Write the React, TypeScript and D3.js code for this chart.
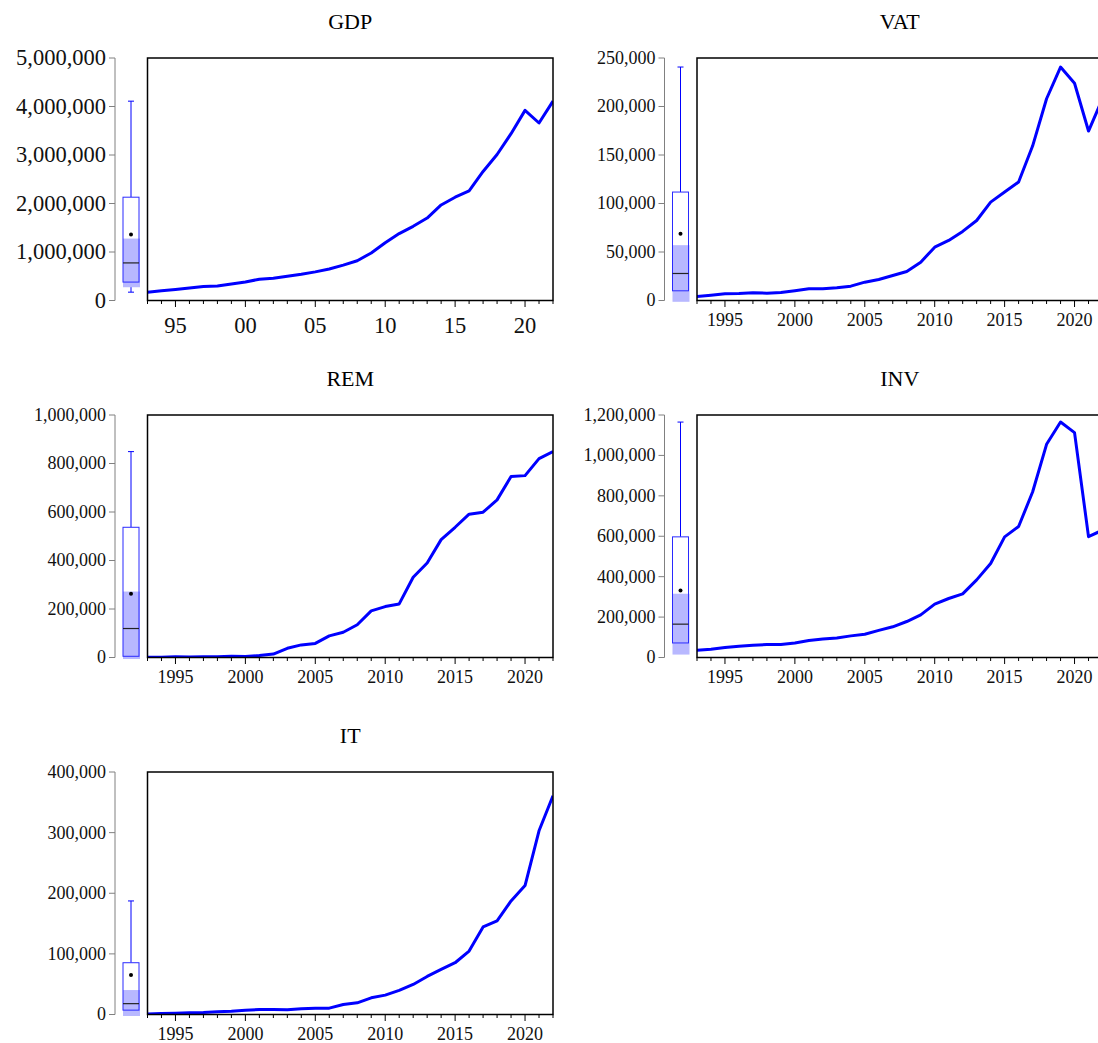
import React from "react";
import { scaleLinear, line, format, range, mean, median } from "d3";

const years = [
  1993, 1994, 1995, 1996, 1997, 1998, 1999, 2000, 2001, 2002, 2003, 2004, 2005,
  2006, 2007, 2008, 2009, 2010, 2011, 2012, 2013, 2014, 2015, 2016, 2017, 2018,
  2019, 2020, 2021, 2022,
];

const gdp = [
  172000, 200000, 227000, 260000, 290000, 300000, 340000, 380000, 440000,
  460000, 500000, 540000, 590000, 650000, 730000, 820000, 980000, 1190000,
  1380000, 1530000, 1700000, 1970000, 2130000, 2260000, 2660000, 3010000,
  3440000, 3920000, 3660000, 4110000,
];
const vat = [
  4100, 5500, 6900, 7200, 7900, 7600, 8300, 10000, 12000, 12000, 13100, 14800,
  18900, 21700, 25800, 29900, 39500, 55000, 61900, 71200, 82500, 101400,
  111800, 122100, 159200, 208000, 240700, 224000, 174700, 208000,
];
const rem = [
  1000, 1000, 3000, 2000, 3000, 3000, 5000, 4000, 8000, 14000, 38000, 52000,
  58000, 89000, 104000, 135000, 192000, 210000, 221000, 331000, 390000, 486000,
  537000, 591000, 599000, 650000, 746000, 750000, 820000, 849000,
];
const inv = [
  36000, 41000, 49000, 56000, 61000, 64000, 64000, 72000, 84000, 91000, 97000,
  107000, 115000, 134000, 152000, 178000, 211000, 264000, 292000, 315000,
  384000, 465000, 597000, 648000, 819000, 1055000, 1165000, 1113000, 598000,
  630000,
];
const it = [
  1000, 1700, 2200, 2800, 3300, 4400, 5500, 7200, 8300, 8300, 7700, 9400,
  10500, 10500, 16500, 19300, 27500, 32000, 39700, 49600, 62800, 74400, 85400,
  104700, 144400, 154300, 187300, 212700, 303000, 360900,
];

const panels = [
  { name: "GDP", values: gdp, yMax: 5000000, step: 1000000, col: 0, row: 0, big: true },
  { name: "VAT", values: vat, yMax: 250000, step: 50000, col: 1, row: 0, big: false },
  { name: "REM", values: rem, yMax: 1000000, step: 200000, col: 0, row: 1, big: false },
  { name: "INV", values: inv, yMax: 1200000, step: 200000, col: 1, row: 1, big: false },
  { name: "IT", values: it, yMax: 400000, step: 100000, col: 0, row: 2, big: false },
];

const width = 1098;
const height = 1043;
const colDx = 549.5;
const rowDy = 357;
const frame = { left: 147.5, right: 553, top: 58, bottom: 300.5 };
const axisX = 115;
const boxX = 131;
const boxW = 16;
const font = "'Liberation Serif', 'DejaVu Serif', serif";
const fmt = format(",");

// tukey hinges, whiskers within 1.5 IQR, median notch band
function boxStats(values: number[]) {
  const s = [...values].sort((a, b) => a - b);
  const n = s.length;
  const half = Math.ceil(n / 2);
  const q1 = median(s.slice(0, half)) as number;
  const q3 = median(s.slice(n - half)) as number;
  const iqr = q3 - q1;
  const lo = s.find((v) => v >= q1 - 1.5 * iqr) as number;
  const hi = [...s].reverse().find((v) => v <= q3 + 1.5 * iqr) as number;
  const med = median(s) as number;
  const ci = (1.57 * iqr) / Math.sqrt(n);
  return { q1, q3, lo, hi, med, mean: mean(s) as number, ciLo: med - ci, ciHi: med + ci };
}

function Panel({ p }) {
  const dx = p.col * colDx;
  const dy = p.row * rowDy;
  const x = scaleLinear()
    .domain([years[0], years[years.length - 1]])
    .range([frame.left + dx, frame.right + dx]);
  const y = scaleLinear()
    .domain([0, p.yMax])
    .range([frame.bottom + dy, frame.top + dy]);
  const path = line<number>()
    .x((d, i) => x(years[i]))
    .y((d) => y(d));
  const yTicks = range(0, p.yMax + p.step / 2, p.step);
  const fs = p.big ? 22.5 : 18;
  const b = boxStats(p.values);
  const bx = boxX + dx;
  const ax = axisX + dx;
  const clipId = `clip-${p.name}`;
  const ciBottom = Math.min(y(Math.max(b.ciLo, 0)) + 1.5, y(b.ciLo));

  return (
    <g>
      <text
        x={(frame.left + frame.right) / 2 + dx}
        y={29 + dy}
        textAnchor="middle"
        fontSize={22}
        fontFamily={font}
      >
        {p.name}
      </text>

      {/* left value axis */}
      <line x1={ax} x2={ax} y1={y(0)} y2={y(p.yMax)} stroke="#808080" strokeWidth={1} />
      {yTicks.map((t) => (
        <g key={`yt-${t}`}>
          <line x1={ax - 6} x2={ax} y1={y(t)} y2={y(t)} stroke="#808080" strokeWidth={1} />
          <text
            x={ax - 9}
            y={y(t)}
            dy="0.33em"
            textAnchor="end"
            fontSize={fs}
            fontFamily={font}
            fill="#111"
          >
            {fmt(t)}
          </text>
        </g>
      ))}

      {/* boxplot */}
      <line x1={bx} x2={bx} y1={y(b.hi)} y2={y(b.q3)} stroke="#0000ff" strokeWidth={1} />
      <line x1={bx} x2={bx} y1={y(b.q1)} y2={y(b.lo)} stroke="#0000ff" strokeWidth={1} />
      <line x1={bx - 3} x2={bx + 3} y1={y(b.hi)} y2={y(b.hi)} stroke="#0000ff" strokeWidth={1} />
      <line x1={bx - 3} x2={bx + 3} y1={y(b.lo)} y2={y(b.lo)} stroke="#0000ff" strokeWidth={1} />
      <rect
        x={bx - boxW / 2}
        y={y(b.q3)}
        width={boxW}
        height={y(b.q1) - y(b.q3)}
        fill="#fff"
      />
      <rect
        x={bx - boxW / 2}
        y={y(b.ciHi)}
        width={boxW + 1}
        height={ciBottom - y(b.ciHi)}
        fill="#b8b8ff"
      />
      <rect
        x={bx - boxW / 2}
        y={y(b.q3)}
        width={boxW}
        height={y(b.q1) - y(b.q3)}
        fill="none"
        stroke="#2a2aff"
        strokeWidth={1}
      />
      <line
        x1={bx - boxW / 2}
        x2={bx + boxW / 2}
        y1={y(b.med)}
        y2={y(b.med)}
        stroke="#222"
        strokeWidth={1.2}
      />
      <circle cx={bx} cy={y(b.mean)} r={2} fill="#000" />

      {/* series */}
      <clipPath id={clipId}>
        <rect
          x={frame.left + dx}
          y={frame.top + dy}
          width={frame.right - frame.left}
          height={frame.bottom - frame.top}
        />
      </clipPath>
      <path
        d={path(p.values) ?? ""}
        fill="none"
        stroke="#0000ff"
        strokeWidth={3}
        strokeLinejoin="round"
        clipPath={`url(#${clipId})`}
      />
      <rect
        x={frame.left + dx}
        y={frame.top + dy}
        width={frame.right - frame.left}
        height={frame.bottom - frame.top}
        fill="none"
        stroke="#000"
        strokeWidth={1.5}
      />

      {/* time axis */}
      {years.map((yr) => {
        const major = yr % 5 === 0;
        return (
          <g key={`xt-${yr}`}>
            <line
              x1={x(yr)}
              x2={x(yr)}
              y1={frame.bottom + dy}
              y2={frame.bottom + dy + (major ? 6.5 : 3.5)}
              stroke="#000"
              strokeWidth={1}
            />
            {major && (
              <text
                x={x(yr)}
                y={frame.bottom + dy + (p.big ? 32 : 25)}
                textAnchor="middle"
                fontSize={fs}
                fontFamily={font}
                fill="#111"
              >
                {p.big ? String(yr).slice(2) : yr}
              </text>
            )}
          </g>
        );
      })}
    </g>
  );
}

export default function App() {
  return (
    <>
      <style>{`body{margin:0;background:#fff}`}</style>
      <svg
        width={width}
        height={height}
        viewBox={`0 0 ${width} ${height}`}
        style={{ display: "block", background: "#fff" }}
      >
        {panels.map((p) => (
          <Panel key={p.name} p={p} />
        ))}
      </svg>
    </>
  );
}
